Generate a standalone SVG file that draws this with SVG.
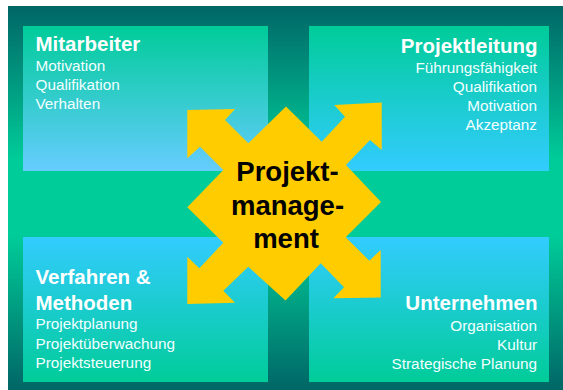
<svg xmlns="http://www.w3.org/2000/svg" width="563" height="390" viewBox="0 0 563 390">
<defs>
<linearGradient id="bg" x1="0" y1="0" x2="0" y2="1">
<stop offset="0" stop-color="#006666"/>
<stop offset="0.4" stop-color="#00CC99"/>
<stop offset="0.6" stop-color="#00CC99"/>
<stop offset="1" stop-color="#006666"/>
</linearGradient>
<linearGradient id="gTL" x1="0" y1="0" x2="0" y2="1">
<stop offset="0" stop-color="#00CC99"/>
<stop offset="1" stop-color="#66CCFF"/>
</linearGradient>
<linearGradient id="gTR" x1="0" y1="0" x2="0" y2="1">
<stop offset="0" stop-color="#00CC99"/>
<stop offset="1" stop-color="#33CCFF"/>
</linearGradient>
<linearGradient id="gB" x1="0" y1="0" x2="0" y2="1">
<stop offset="0" stop-color="#33CCFF"/>
<stop offset="1" stop-color="#00CC99"/>
</linearGradient>
</defs>
<style>
.t{font-family:"Liberation Sans",Arial,sans-serif;font-weight:bold;font-size:20.5px;fill:#FFFFFF}
.s{font-family:"Liberation Sans",Arial,sans-serif;font-size:15.3px;fill:#F2FFFF}
.r{text-anchor:end}
.c{font-family:"Liberation Sans",Arial,sans-serif;font-weight:bold;font-size:27.5px;fill:#000000;text-anchor:middle}
</style>
<rect x="8" y="6" width="555" height="384" fill="url(#bg)"/>
<g id="mitarbeiter">
<rect x="23" y="26" width="245" height="145" fill="url(#gTL)"/>
<text class="t" x="35.5" y="50.7">Mitarbeiter</text>
<text class="s" x="35.5" y="70.5">Motivation</text>
<text class="s" x="35.5" y="89.8">Qualifikation</text>
<text class="s" x="35.5" y="109">Verhalten</text>
</g>
<g id="projektleitung">
<rect x="309" y="26" width="240" height="145" fill="url(#gTR)"/>
<text class="t r" x="537.5" y="53.3">Projektleitung</text>
<text class="s r" x="537" y="73.3">Führungsfähigkeit</text>
<text class="s r" x="537" y="92.3">Qualifikation</text>
<text class="s r" x="537" y="111.3">Motivation</text>
<text class="s r" x="537" y="130">Akzeptanz</text>
</g>
<g id="verfahren">
<rect x="23" y="237" width="245" height="145" fill="url(#gB)"/>
<text class="t" x="35.5" y="284.3">Verfahren &amp;</text>
<text class="t" x="35.5" y="310">Methoden</text>
<text class="s" x="35.5" y="329.3">Projektplanung</text>
<text class="s" x="35.5" y="348.7">Projektüberwachung</text>
<text class="s" x="35.5" y="367.7">Projektsteuerung</text>
</g>
<g id="unternehmen">
<rect x="309" y="237" width="240" height="145" fill="url(#gB)"/>
<text class="t r" x="537.5" y="310.3">Unternehmen</text>
<text class="s r" x="537" y="331">Organisation</text>
<text class="s r" x="537" y="350">Kultur</text>
<text class="s r" x="537" y="368.7">Strategische Planung</text>
</g>
<g id="connectors">
<polygon fill="#FFCC00" points="286,106.5 321.7,141.7 345,116.7 334.3,105 381.7,102.5 381.7,150 370,140 346,165 381,202 345.7,237.3 369.3,260.7 380.7,250 380.7,297.5 333.3,298.3 344,287.3 320.7,263.3 285.5,300.5 248.3,266.7 223.3,290.7 235,302.7 187.3,304 187.3,256.7 199.3,268.3 223.3,242.7 187.3,207.3 223.3,170 200,146.7 187.3,158.3 187.3,110 235,109 225,120 248.3,143.3"/>
</g>
<g id="projektmanagement">
<text class="c" x="287.5" y="180.7">Projekt-</text>
<text class="c" x="287.5" y="214.8">manage-</text>
<text class="c" x="286" y="248.3">ment</text>
</g>
</svg>
